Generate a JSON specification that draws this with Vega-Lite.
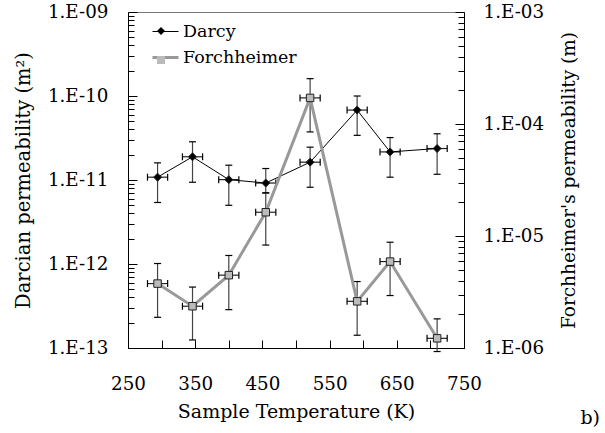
{
  "$schema": "https://vega.github.io/schema/vega-lite/v6.json",
  "autosize": "none",
  "width": 336,
  "height": 336,
  "padding": {"left": 128, "top": 12, "right": 141, "bottom": 85},
  "background": "white",
  "config": {
    "view": {"stroke": "#777", "strokeWidth": 1},
    "font": "DejaVu Serif",
    "axis": {
      "labelFont": "DejaVu Serif",
      "titleFont": "DejaVu Serif",
      "labelColor": "black",
      "titleColor": "black",
      "domainColor": "black",
      "tickColor": "black",
      "titleFontWeight": "normal",
      "grid": false
    },
    "legend": {"labelFont": "DejaVu Serif"},
    "title": {"font": "DejaVu Serif"}
  },
  "datasets": {
    "perm": [
      {"series": "Darcy", "T": 294, "Tlo": 279, "Thi": 309, "k": 1.08e-11, "klo": 5.4e-12, "khi": 1.6e-11},
      {"series": "Darcy", "T": 346, "Tlo": 331, "Thi": 361, "k": 1.89e-11, "klo": 9.4e-12, "khi": 2.85e-11},
      {"series": "Darcy", "T": 400, "Tlo": 385, "Thi": 415, "k": 1.01e-11, "klo": 5.0e-12, "khi": 1.5e-11},
      {"series": "Darcy", "T": 455, "Tlo": 440, "Thi": 470, "k": 9.2e-12, "klo": 7.0e-12, "khi": 1.37e-11},
      {"series": "Darcy", "T": 521, "Tlo": 506, "Thi": 536, "k": 1.63e-11, "klo": 8.2e-12, "khi": 2.46e-11},
      {"series": "Darcy", "T": 591, "Tlo": 576, "Thi": 606, "k": 6.8e-11, "klo": 3.4e-11, "khi": 1.0e-10},
      {"series": "Darcy", "T": 640, "Tlo": 625, "Thi": 655, "k": 2.16e-11, "klo": 1.08e-11, "khi": 3.2e-11},
      {"series": "Darcy", "T": 710, "Tlo": 695, "Thi": 725, "k": 2.37e-11, "klo": 1.17e-11, "khi": 3.55e-11},
      {"series": "Forchheimer", "T": 294, "Tlo": 279, "Thi": 309, "k": 3.76e-6, "klo": 1.88e-6, "khi": 5.68e-6},
      {"series": "Forchheimer", "T": 346, "Tlo": 331, "Thi": 361, "k": 2.36e-6, "klo": 1.18e-6, "khi": 3.5e-6},
      {"series": "Forchheimer", "T": 400, "Tlo": 385, "Thi": 415, "k": 4.47e-6, "klo": 2.2e-6, "khi": 6.7e-6},
      {"series": "Forchheimer", "T": 455, "Tlo": 440, "Thi": 470, "k": 1.63e-5, "klo": 8.3e-6, "khi": 2.43e-5},
      {"series": "Forchheimer", "T": 521, "Tlo": 506, "Thi": 536, "k": 1.71e-4, "klo": 8.5e-5, "khi": 2.54e-4},
      {"series": "Forchheimer", "T": 591, "Tlo": 576, "Thi": 606, "k": 2.61e-6, "klo": 1.3e-6, "khi": 3.92e-6},
      {"series": "Forchheimer", "T": 640, "Tlo": 625, "Thi": 655, "k": 5.91e-6, "klo": 2.94e-6, "khi": 8.8e-6},
      {"series": "Forchheimer", "T": 710, "Tlo": 695, "Thi": 725, "k": 1.22e-6, "klo": 9.3e-7, "khi": 1.82e-6}
    ]
  },
  "data": {"name": "perm"},
  "title": {
    "text": "b)",
    "orient": "bottom",
    "anchor": "end",
    "frame": "group",
    "fontSize": 19,
    "fontWeight": "normal",
    "color": "black",
    "offset": -12,
    "dx": 136
  },
  "encoding": {
    "x": {
      "field": "T",
      "type": "quantitative",
      "scale": {"domain": [250, 750], "nice": false, "zero": false},
      "axis": {
        "title": "Sample Temperature (K)",
        "titleFontSize": 19,
        "titleX": 168,
        "titleY": 69,
        "titleBaseline": "alphabetic",
        "titleAlign": "center",
        "labelFontSize": 18.3,
        "labelBaseline": "alphabetic",
        "labelPadding": 49,
        "labelFlush": false,
        "values": [250, 300, 350, 400, 450, 500, 550, 600, 650, 700, 750],
        "labelExpr": "(datum.value - 250) % 100 == 0 ? datum.label : ''",
        "tickSize": -8
      }
    }
  },
  "layer": [
    {
      "transform": [{"filter": "datum.series == 'Darcy'"}],
      "encoding": {
        "y": {
          "field": "k",
          "type": "quantitative",
          "scale": {"type": "log", "domain": [1e-13, 1e-9], "nice": false},
          "axis": {
            "orient": "left",
            "title": "Darcian permeability (m²)",
            "titleFontSize": 19.5,
            "titleX": -105,
            "titleY": 168,
            "titleAngle": 270,
            "titleAlign": "center",
            "titleBaseline": "middle",
            "labelFontSize": 18.3,
            "labelPadding": 29,
            "values": [1e-13, 2e-13, 3e-13, 4e-13, 5e-13, 6e-13, 7e-13, 8e-13, 9e-13, 1e-12, 2e-12, 3e-12, 4e-12, 5e-12, 6e-12, 7e-12, 8e-12, 9e-12, 1e-11, 2e-11, 3e-11, 4e-11, 5e-11, 6e-11, 7e-11, 8e-11, 9e-11, 1e-10, 2e-10, 3e-10, 4e-10, 5e-10, 6e-10, 7e-10, 8e-10, 9e-10, 1e-9],
            "labelExpr": "abs(log(datum.value)/LN10 - round(log(datum.value)/LN10)) < 0.001 ? '1.E-' + (-round(log(datum.value)/LN10) < 10 ? '0' : '') + (-round(log(datum.value)/LN10)) : ''",
            "tickSize": {"condition": {"test": "abs(log(datum.value)/LN10 - round(log(datum.value)/LN10)) < 0.001", "value": -9}, "value": -6}
          }
        }
      },
      "layer": [
        {"mark": {"type": "rule", "color": "#444", "strokeWidth": 1.2}, "encoding": {"y": {"field": "klo", "type": "quantitative"}, "y2": {"field": "khi"}}},
        {"mark": {"type": "rule", "color": "#222", "strokeWidth": 1.2}, "encoding": {"x": {"field": "Tlo", "type": "quantitative"}, "x2": {"field": "Thi"}}},
        {"mark": {"type": "point", "shape": "stroke", "size": 49, "stroke": "black", "strokeWidth": 1.2, "filled": false, "opacity": 1}, "encoding": {"y": {"field": "klo", "type": "quantitative"}}},
        {"mark": {"type": "point", "shape": "stroke", "size": 49, "stroke": "black", "strokeWidth": 1.2, "filled": false, "opacity": 1}, "encoding": {"y": {"field": "khi", "type": "quantitative"}}},
        {"mark": {"type": "point", "shape": "stroke", "angle": 90, "size": 49, "stroke": "black", "strokeWidth": 1.2, "filled": false, "opacity": 1}, "encoding": {"x": {"field": "Tlo", "type": "quantitative"}}},
        {"mark": {"type": "point", "shape": "stroke", "angle": 90, "size": 49, "stroke": "black", "strokeWidth": 1.2, "filled": false, "opacity": 1}, "encoding": {"x": {"field": "Thi", "type": "quantitative"}}},
        {
          "mark": {"type": "line"},
          "encoding": {
            "stroke": {"field": "series", "type": "ordinal", "scale": {"range": ["black", "#999999"]},
              "legend": {"title": null, "orient": "none", "legendX": 23, "legendY": 6, "symbolType": "stroke", "symbolSize": 676, "labelFontSize": 17.5, "labelColor": "black", "labelOffset": 3, "rowPadding": 3, "padding": 0}},
            "strokeWidth": {"field": "series", "type": "ordinal", "scale": {"range": [1, 3]}}
          }
        },
        {
          "mark": {"type": "point", "filled": true, "opacity": 1, "stroke": "#222", "strokeWidth": 1},
          "encoding": {
            "shape": {"field": "series", "type": "nominal", "scale": {"domain": ["Darcy", "Forchheimer"], "range": ["diamond", "square"]},
              "legend": {"title": null, "orient": "none", "legendX": 20, "legendY": 6, "symbolSize": 64, "labelFontSize": 26, "labelExpr": "''", "rowPadding": 3, "padding": 0, "symbolStrokeColor": "#222", "symbolStrokeWidth": 1}},
            "fill": {"field": "series", "type": "nominal", "scale": {"domain": ["Darcy", "Forchheimer"], "range": ["black", "#bbbbbb"]}},
            "size": {"value": 64}
          }
        }
      ]
    },
    {
      "transform": [{"filter": "datum.series == 'Forchheimer'"}],
      "encoding": {
        "y": {
          "field": "k",
          "type": "quantitative",
          "scale": {"type": "log", "domain": [1e-6, 1e-3], "nice": false},
          "axis": {
            "orient": "right",
            "title": "Forchheimer's permeability (m)",
            "titleFontSize": 18.5,
            "titleX": 104,
            "titleY": 168,
            "titleAngle": 270,
            "titleAlign": "center",
            "titleBaseline": "middle",
            "labelFontSize": 18.3,
            "labelPadding": 28,
            "values": [1e-6, 2e-6, 3e-6, 4e-6, 5e-6, 6e-6, 7e-6, 8e-6, 9e-6, 1e-5, 2e-5, 3e-5, 4e-5, 5e-5, 6e-5, 7e-5, 8e-5, 9e-5, 1e-4, 2e-4, 3e-4, 4e-4, 5e-4, 6e-4, 7e-4, 8e-4, 9e-4, 1e-3],
            "labelExpr": "abs(log(datum.value)/LN10 - round(log(datum.value)/LN10)) < 0.001 ? '1.E-' + (-round(log(datum.value)/LN10) < 10 ? '0' : '') + (-round(log(datum.value)/LN10)) : ''",
            "tickSize": {"condition": {"test": "abs(log(datum.value)/LN10 - round(log(datum.value)/LN10)) < 0.001", "value": -9}, "value": -6}
          }
        }
      },
      "layer": [
        {"mark": {"type": "rule", "color": "#444", "strokeWidth": 1.2}, "encoding": {"y": {"field": "klo", "type": "quantitative"}, "y2": {"field": "khi"}}},
        {"mark": {"type": "rule", "color": "#222", "strokeWidth": 1.2}, "encoding": {"x": {"field": "Tlo", "type": "quantitative"}, "x2": {"field": "Thi"}}},
        {"mark": {"type": "point", "shape": "stroke", "size": 49, "stroke": "black", "strokeWidth": 1.2, "filled": false, "opacity": 1}, "encoding": {"y": {"field": "klo", "type": "quantitative"}}},
        {"mark": {"type": "point", "shape": "stroke", "size": 49, "stroke": "black", "strokeWidth": 1.2, "filled": false, "opacity": 1}, "encoding": {"y": {"field": "khi", "type": "quantitative"}}},
        {"mark": {"type": "point", "shape": "stroke", "angle": 90, "size": 49, "stroke": "black", "strokeWidth": 1.2, "filled": false, "opacity": 1}, "encoding": {"x": {"field": "Tlo", "type": "quantitative"}}},
        {"mark": {"type": "point", "shape": "stroke", "angle": 90, "size": 49, "stroke": "black", "strokeWidth": 1.2, "filled": false, "opacity": 1}, "encoding": {"x": {"field": "Thi", "type": "quantitative"}}},
        {
          "mark": {"type": "line"},
          "encoding": {
            "stroke": {"field": "series", "type": "ordinal"},
            "strokeWidth": {"field": "series", "type": "ordinal"}
          }
        },
        {
          "mark": {"type": "point", "filled": true, "opacity": 1, "stroke": "#222", "strokeWidth": 1},
          "encoding": {
            "shape": {"field": "series", "type": "nominal"},
            "fill": {"field": "series", "type": "nominal"},
            "size": {"value": 56}
          }
        }
      ]
    }
  ],
  "resolve": {"scale": {"y": "independent"}}
}
